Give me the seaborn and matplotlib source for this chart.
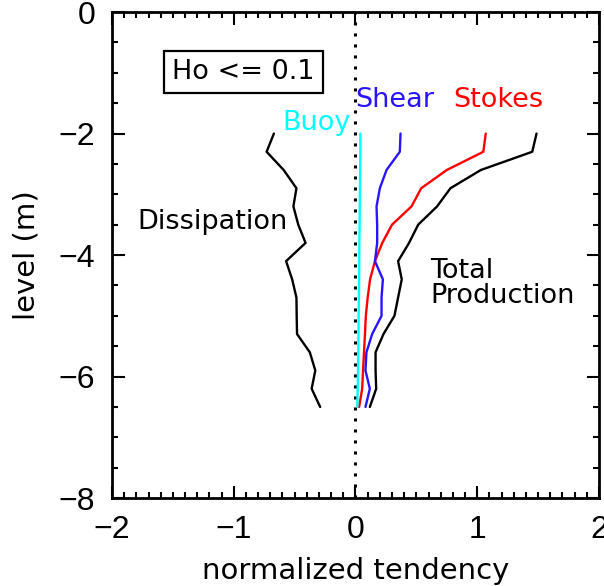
import matplotlib
matplotlib.use("Agg")
import matplotlib.pyplot as plt
from matplotlib.ticker import MultipleLocator
import seaborn as sns
import pandas as pd

# Depth levels (m) and normalized TKE budget terms
levels = [-2.0, -2.3, -2.6, -2.9, -3.2, -3.5, -3.8, -4.1,
          -4.4, -4.7, -5.0, -5.3, -5.6, -5.9, -6.2, -6.5]
dissipation = [-0.67, -0.73, -0.59, -0.485, -0.51, -0.47, -0.41, -0.57,
               -0.52, -0.485, -0.483, -0.48, -0.375, -0.33, -0.36, -0.29]
stokes = [1.07, 1.05, 0.75, 0.54, 0.46, 0.30, 0.22, 0.16,
          0.12, 0.10, 0.085, 0.078, 0.07, 0.062, 0.055, 0.03]
shear = [0.37, 0.364, 0.255, 0.20, 0.173, 0.178, 0.178, 0.16,
         0.225, 0.214, 0.214, 0.137, 0.09, 0.082, 0.118, 0.082]
buoy = [0.04, 0.04, 0.038, 0.037, 0.035, 0.034, 0.032, 0.031,
        0.03, 0.028, 0.026, 0.025, 0.023, 0.021, 0.018, 0.015]
total = [1.487, 1.452, 1.03, 0.78, 0.67, 0.515, 0.44, 0.35,
         0.38, 0.35, 0.32, 0.23, 0.165, 0.165, 0.17, 0.118]

sns.set_style("ticks")
plt.rcParams["font.family"] = ["DejaVu Sans"]
plt.rcParams["text.color"] = "black"
plt.rcParams["axes.labelcolor"] = "black"
plt.rcParams["xtick.color"] = "black"
plt.rcParams["ytick.color"] = "black"

fig = plt.figure(figsize=(6.04, 5.86), dpi=100)
ax = fig.add_axes([0.1854, 0.150, 0.8063, 0.8295])

df = pd.DataFrame({"level": levels, "Dissipation": dissipation, "Stokes": stokes,
                   "Shear": shear, "Buoy": buoy, "Total": total})

series = [("Dissipation", "black"), ("Total", "black"), ("Stokes", "red"),
          ("Shear", "#2a14ff"), ("Buoy", "cyan")]
for name, col in series:
    sns.lineplot(data=df, x=name, y="level", sort=False, estimator=None,
                 color=col, lw=1.7, ax=ax, legend=False)

ax.axvline(0, color="black", ls=(0, (1, 2.6)), lw=2.2, zorder=0)

ax.set_xlim(-2, 2)
ax.set_ylim(-8, 0)
ax.xaxis.set_major_locator(MultipleLocator(1))
ax.xaxis.set_minor_locator(MultipleLocator(0.1))
ax.yaxis.set_major_locator(MultipleLocator(2))
ax.yaxis.set_minor_locator(MultipleLocator(0.5))
ax.tick_params(which="both", direction="in", top=True, right=True,
               width=1.5, color="black", labelcolor="black")
ax.tick_params(which="major", length=9, labelsize=23, pad=12)
ax.tick_params(which="minor", length=4.5)
for lab in ax.get_xticklabels() + ax.get_yticklabels():
    lab.set_family("Liberation Sans")
for sp in ax.spines.values():
    sp.set_linewidth(2)
    sp.set_color("black")

ax.set_xlabel("normalized tendency", fontsize=21, labelpad=9, color="black")
ax.set_ylabel("level (m)", fontsize=21, labelpad=13, color="black")

ax.text(-0.92, -0.99, "Ho <= 0.1", fontsize=19.5, ha="center", va="center",
        color="black",
        bbox=dict(boxstyle="square,pad=0.3", fc="white", ec="black", lw=1.6))
ax.text(-0.04, -1.83, "Buoy", color="cyan", fontsize=19.5, ha="right", va="center")
ax.text(0.0, -1.45, "Shear", color="#2a14ff", fontsize=19.5, ha="left", va="center")
ax.text(0.805, -1.45, "Stokes", color="red", fontsize=19.5, ha="left", va="center")
ax.text(-1.79, -3.46, "Dissipation", color="black", fontsize=19.5, ha="left", va="center")
ax.text(0.616, -4.46, "Total\nProduction", color="black", fontsize=19.5,
        ha="left", va="center", linespacing=0.95)

fig.savefig("out.png", dpi=100)
